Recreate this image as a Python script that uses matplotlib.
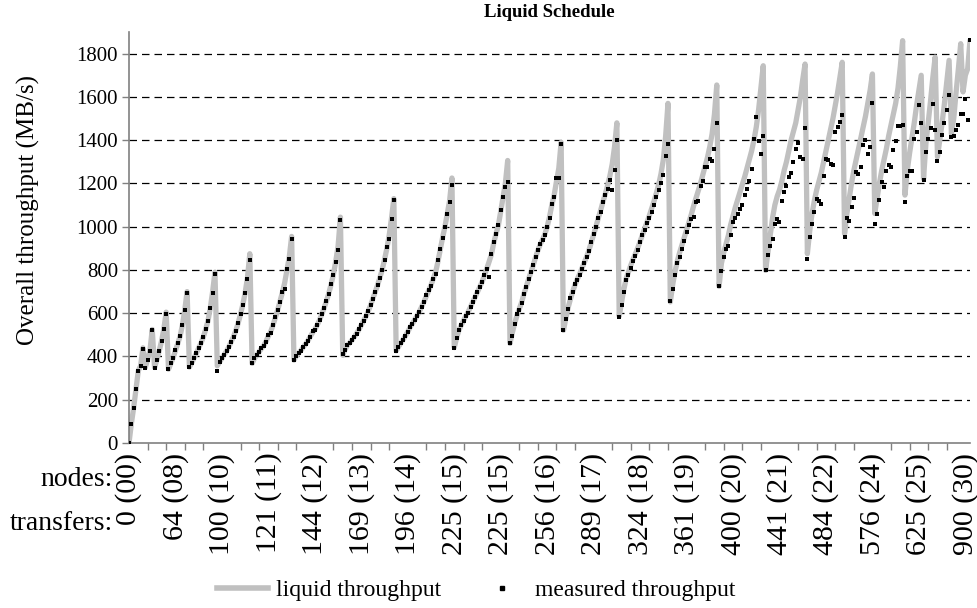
import matplotlib
matplotlib.use("Agg")
import matplotlib.pyplot as plt
from matplotlib.lines import Line2D

plt.rcParams['font.family'] = ['Liberation Serif', 'DejaVu Serif']

# Modelled ("liquid") throughput per configuration, MB/s
liquid = [
    0, 88, 163, 248, 334, 357, 440,
    349, 386, 426, 525,
    349, 386, 426, 471, 527, 605,
    341, 368, 394, 428, 460, 494, 546, 614, 700,
    351, 370, 392, 415, 440, 462, 490, 525, 565, 625, 700, 790,
    357, 375, 391, 409, 425, 445, 468, 492, 520, 555, 595, 640, 695, 765, 875,
    368, 391, 406, 421, 437, 450, 470, 495, 515, 545, 580, 615, 655, 695, 740, 800, 860, 955,
    383, 403, 415, 428, 443, 457, 473, 492, 510, 525, 545, 568, 596, 624, 657, 692, 734, 780, 840, 910, 1044,
    406, 432, 452, 463, 476, 491, 507, 525, 545, 565, 586, 610, 637, 668, 698, 730, 765, 802, 848, 900, 960, 1040, 1130,
    426, 445, 462, 478, 496, 514, 535, 552, 570, 588, 608, 630, 654, 680, 705, 730, 760, 790, 840, 895, 950, 1000, 1060, 1120, 1225,
    441, 486, 521, 545, 565, 588, 606, 629, 652, 675, 698, 721, 745, 775, 806, 838, 872, 925, 968, 1006, 1070, 1135, 1200, 1306,
    460, 510, 552, 590, 620, 650, 690, 722, 758, 790, 822, 858, 890, 918, 940, 965, 1000, 1045, 1100, 1145, 1210, 1270, 1390,
    521, 575, 625, 665, 700, 732, 758, 782, 808, 835, 862, 892, 928, 965, 1000, 1040, 1075, 1115, 1150, 1190, 1235, 1290, 1370, 1480,
    586, 650, 710, 760, 790, 822, 850, 875, 902, 932, 962, 992, 1022, 1052, 1085, 1118, 1155, 1195, 1245, 1310, 1420, 1570,
    652, 730, 790, 840, 880, 915, 950, 985, 1020, 1055, 1095, 1130, 1165, 1200, 1240, 1280, 1320, 1370, 1430, 1520, 1655,
    724, 830, 880, 920, 960, 1010, 1050, 1090, 1125, 1160, 1195, 1230, 1270, 1310, 1350, 1400, 1460, 1540, 1640, 1744,
    798, 880, 960, 1040, 1100, 1140, 1170, 1210, 1260, 1300, 1350, 1400, 1440, 1480, 1540, 1600, 1680, 1752,
    875, 980, 1060, 1120, 1170, 1210, 1250, 1300, 1350, 1400, 1450, 1500, 1560, 1620, 1690, 1760,
    968, 1060, 1130, 1200, 1260, 1310, 1360, 1410, 1460, 1510, 1570, 1630, 1706,
    1061, 1130, 1200, 1260, 1310, 1360, 1420, 1470, 1520, 1570, 1640, 1740, 1860,
    1146, 1260, 1340, 1410, 1480, 1560, 1630, 1700,
    1221, 1380, 1480, 1580, 1690, 1784,
    1323, 1400, 1480, 1570, 1670, 1769,
    1429, 1500, 1620, 1730, 1846,
    1623, 1700, 1730, 1861,
]

# Measured throughput per configuration, MB/s
measured = [
    0, 88, 163, 248, 334, 357, 435,
    349, 386, 426, 521,
    349, 386, 426, 471, 527, 595,
    341, 368, 394, 428, 460, 494, 546, 614, 694,
    351, 370, 392, 415, 440, 462, 490, 525, 565, 625, 695, 783,
    332, 375, 391, 409, 425, 445, 468, 492, 520, 555, 595, 640, 695, 760, 845,
    368, 391, 406, 421, 437, 448, 468, 498, 509, 545, 583, 614, 652, 698, 714, 806, 852, 944,
    383, 403, 414, 426, 443, 457, 472, 491, 518, 522, 545, 568, 598, 622, 657, 691, 734, 775, 837, 894, 1029,
    411, 432, 452, 463, 475, 491, 506, 525, 545, 564, 586, 610, 637, 668, 698, 729, 765, 802, 845, 906, 945, 1037, 1124,
    426, 445, 462, 478, 496, 514, 537, 552, 568, 586, 606, 629, 652, 683, 706, 725, 760, 783, 844, 895, 949, 998, 1057, 1114, 1194,
    441, 486, 521, 545, 563, 588, 603, 629, 652, 675, 698, 721, 744, 775, 806, 768, 875, 929, 968, 1006, 1078, 1137, 1183, 1206,
    460, 494, 552, 598, 617, 645, 691, 721, 760, 790, 821, 860, 891, 918, 937, 960, 1000, 1042, 1106, 1137, 1226, 1226, 1383,
    521, 571, 621, 672, 698, 734, 755, 775, 806, 832, 860, 888, 929, 965, 998, 1042, 1067, 1113, 1145, 1175, 1215, 1168, 1260, 1400,
    583, 637, 700, 755, 775, 810, 840, 865, 894, 929, 960, 986, 1015, 1040, 1070, 1098, 1137, 1168, 1200, 1241, 1329, 1380,
    655, 714, 775, 832, 860, 898, 934, 975, 1006, 1037, 1045, 1113, 1121, 1190, 1209, 1275, 1275, 1314, 1303, 1360, 1481,
    724, 794, 860, 895, 911, 960, 1021, 1040, 1060, 1080, 1098, 1148, 1175, 1209, 1268, 1406, 1506, 1394, 1337, 1420,
    798, 868, 910, 945, 1014, 1037, 1021, 1121, 1160, 1190, 1229, 1249, 1300, 1360, 1386, 1321, 1311, 1455,
    852, 952, 1014, 1070, 1129, 1121, 1106, 1232, 1314, 1306, 1289, 1285, 1437, 1463, 1483, 1514,
    954, 1042, 1026, 1090, 1131, 1251, 1243, 1277, 1377, 1403, 1335, 1369, 1574,
    1012, 1060, 1123, 1206, 1183, 1257, 1284, 1277, 1354, 1394, 1464, 1464, 1472,
    1115, 1234, 1258, 1258, 1404, 1438, 1564, 1480,
    1215, 1343, 1404, 1458, 1569, 1446,
    1303, 1343, 1423, 1480, 1540, 1607,
    1415, 1420, 1446, 1469, 1520,
    1520, 1589, 1492, 1861,
]

# "transfers (nodes)" labels shown on every 20th configuration
x_labels = ["0 (00)", "64 (08)", "100 (10)", "121 (11)", "144 (12)", "169 (13)",
            "196 (14)", "225 (15)", "225 (15)", "256 (16)", "289 (17)", "324 (18)",
            "361 (19)", "400 (20)", "441 (21)", "484 (22)", "576 (24)", "625 (25)",
            "900 (30)"]
y_ticks = [0, 200, 400, 600, 800, 1000, 1200, 1400, 1600, 1800]

W, H = 977, 608
fig = plt.figure(figsize=(W / 100, H / 100), dpi=100)
ax = fig.add_axes([129 / W, 1 - 443 / H, (970 - 129) / W, (443 - 32) / H])

n = len(liquid)
xs = list(range(n))

for y in y_ticks[1:]:
    ax.axhline(y, color='black', lw=0.9, dashes=(6, 4), zorder=1)

ax.plot(xs, liquid, color='#c0c0c0', lw=3.8, solid_joinstyle='round',
        solid_capstyle='round', zorder=2)
ax.plot(xs, measured, ls='none', marker='s', ms=2.3, mec='black', mfc='black',
        mew=0, zorder=3)

ax.set_xlim(0, n - 1)
ax.set_ylim(0, 1900)
ax.set_yticks(y_ticks)
ax.tick_params(axis='y', labelsize=15, length=5, width=1, color='#808080',
               direction='out', pad=3)

ax.set_xticks(range(0, n, 20))
ax.set_xticklabels(x_labels, rotation=90, va='top', ha='center', fontsize=21.5)
ax.tick_params(axis='x', which='major', length=0, pad=7)
ax.set_xticks(range(0, n, 8), minor=True)
ax.tick_params(axis='x', which='minor', length=5, width=1, color='#808080',
               direction='out')

for side in ('top', 'right'):
    ax.spines[side].set_visible(False)
for side in ('left', 'bottom'):
    ax.spines[side].set_color('#808080')
    ax.spines[side].set_linewidth(1.2)

ax.set_title('Liquid Schedule', fontsize=13.5, fontweight='bold', pad=11)

fig.text(28 / W, 1 - 210 / H, 'Overall throughput (MB/s)', rotation=90,
         ha='center', va='center', fontsize=18)
fig.text(113 / W, 1 - 480 / H, 'nodes:', ha='right', va='center', fontsize=20)
fig.text(113 / W, 1 - 524 / H, 'transfers:', ha='right', va='center', fontsize=20)

handles = [Line2D([], [], color='#c0c0c0', lw=4),
           Line2D([], [], ls='none', marker='s', ms=2.3, color='black')]
fig.legend(handles, ['liquid throughput', 'measured throughput'],
           loc='center', bbox_to_anchor=(476 / W, 1 - 590 / H), ncol=2,
           frameon=False, fontsize=17, handlelength=2.2, columnspacing=1.5,
           handletextpad=0.3)

fig.savefig('out.png', dpi=100)
